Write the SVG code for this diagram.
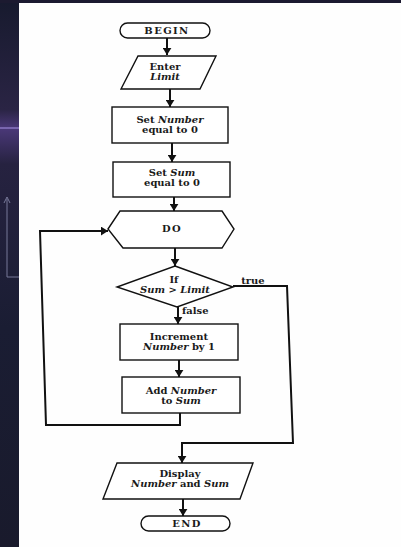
<svg xmlns="http://www.w3.org/2000/svg" width="401" height="547" viewBox="0 0 401 547">
  <style>
    .shape { fill: #ffffff; stroke: #111111; stroke-width: 1.4; }
    .wire { fill: none; stroke: #111111; stroke-width: 2; stroke-linejoin: miter; }
    .lbl, .tag { font-family: "DejaVu Serif", "Liberation Serif", serif; font-size: 8.5px; font-weight: bold; fill: #1a1a1a;
                 transform-box: fill-box; transform-origin: center; transform: scaleX(1.17); }
    .lbl { text-anchor: middle; }
    .caps { letter-spacing: 1.2px; }
    .it { font-style: italic; }
  </style>
  <defs>
    <marker id="arrow" viewBox="0 0 8 10" refX="8" refY="5" markerWidth="7" markerHeight="9" markerUnits="userSpaceOnUse" orient="auto">
      <path d="M0,0 L8,5 L0,10 z" fill="#111111"/>
    </marker>
    <linearGradient id="slide" x1="0" y1="0" x2="0" y2="1">
      <stop offset="0" stop-color="#171a2e"/>
      <stop offset="0.2" stop-color="#2a2444"/>
      <stop offset="0.235" stop-color="#4a3878"/>
      <stop offset="0.3" stop-color="#262240"/>
      <stop offset="0.6" stop-color="#1a1d33"/>
      <stop offset="1" stop-color="#191a2c"/>
    </linearGradient>
  </defs>

  <!-- slide background behind the page -->
  <rect x="0" y="0" width="401" height="547" fill="url(#slide)"/>
  <rect x="0" y="0" width="401" height="3" fill="#1c1a30"/>
  <line x1="0" y1="128" x2="19" y2="128" stroke="#9b86d6" stroke-width="1.2"/>
  <g stroke="#8c8fb0" stroke-width="1" fill="none" opacity="0.8">
    <path d="M7,277 V199 M4,203 L7,197 L10,203"/>
    <path d="M7,277 H19"/>
  </g>

  <!-- page -->
  <rect x="19" y="3" width="382" height="544" fill="#fefefe"/>

  <!-- connectors -->
  <g id="connectors">
    <path class="wire" d="M167,38 V55" marker-end="url(#arrow)"/>
    <path class="wire" d="M170,89 V107" marker-end="url(#arrow)"/>
    <path class="wire" d="M172,143 V162" marker-end="url(#arrow)"/>
    <path class="wire" d="M174,197 V211" marker-end="url(#arrow)"/>
    <path class="wire" d="M175,248 V266" marker-end="url(#arrow)"/>
    <path class="wire" d="M178,307 V324" marker-end="url(#arrow)"/>
    <path class="wire" d="M179,360 V377" marker-end="url(#arrow)"/>
    <path class="wire" d="M180,413 V425 H46 L40,231 H108" marker-end="url(#arrow)"/>
    <path class="wire" d="M233,286 H287 L293,443 H182 V463" marker-end="url(#arrow)"/>
    <path class="wire" d="M183,499 V516" marker-end="url(#arrow)"/>
    <text class="tag" x="243" y="284">true</text>
    <text class="tag" x="184" y="314">false</text>
  </g>

  <g id="begin">
    <rect class="shape" x="120" y="23" width="90" height="15" rx="7.5"/>
    <text class="lbl caps" x="167" y="34">BEGIN</text>
  </g>

  <g id="enter-limit">
    <polygon class="shape" points="138,56 216,56 200,89 121,89"/>
    <text class="lbl" x="165" y="70">Enter</text>
    <text class="lbl it" x="165" y="80">Limit</text>
  </g>

  <g id="set-number">
    <rect class="shape" x="112" y="107" width="116" height="36"/>
    <text class="lbl" x="170" y="123">Set <tspan class="it">Number</tspan></text>
    <text class="lbl" x="170" y="133">equal to 0</text>
  </g>

  <g id="set-sum">
    <rect class="shape" x="113" y="162" width="117" height="35"/>
    <text class="lbl" x="172" y="176">Set <tspan class="it">Sum</tspan></text>
    <text class="lbl" x="172" y="186">equal to 0</text>
  </g>

  <g id="do">
    <polygon class="shape" points="108,229 120,211 222,211 234,229 222,248 123,248"/>
    <text class="lbl caps" x="172" y="232">DO</text>
  </g>

  <g id="test">
    <polygon class="shape" points="175,266 233,287 177,307 117,287"/>
    <text class="lbl" x="174" y="283">If</text>
    <text class="lbl it" x="175" y="293">Sum &gt; Limit</text>
  </g>

  <g id="increment">
    <rect class="shape" x="120" y="324" width="118" height="36"/>
    <text class="lbl" x="179" y="340">Increment</text>
    <text class="lbl" x="179" y="350"><tspan class="it">Number</tspan> by 1</text>
  </g>

  <g id="add">
    <rect class="shape" x="122" y="377" width="118" height="36"/>
    <text class="lbl" x="181" y="394">Add <tspan class="it">Number</tspan></text>
    <text class="lbl" x="181" y="404">to <tspan class="it">Sum</tspan></text>
  </g>

  <g id="display">
    <polygon class="shape" points="117,463 253,463 240,499 103,499"/>
    <text class="lbl" x="180" y="477">Display</text>
    <text class="lbl" x="180" y="487"><tspan class="it">Number</tspan> and <tspan class="it">Sum</tspan></text>
  </g>

  <g id="end">
    <rect class="shape" x="141" y="516" width="89" height="15" rx="7.5"/>
    <text class="lbl caps" x="187" y="527.5">END</text>
  </g>
</svg>
